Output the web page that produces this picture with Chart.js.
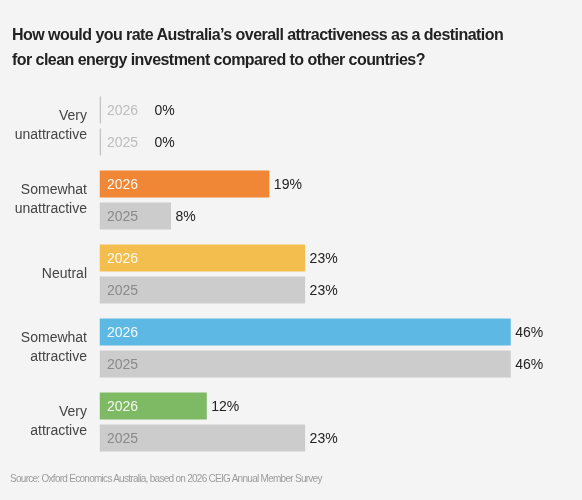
<!DOCTYPE html>
<html>
<head>
<meta charset="utf-8">
<script src="https://cdn.jsdelivr.net/npm/chart.js@4.4.1/dist/chart.umd.min.js"></script>
<style>
  html, body { margin: 0; padding: 0; background: #f4f4f4; }
  #wrap { position: relative; width: 582px; height: 500px; overflow: hidden; }
  #title {
    position: absolute; left: 12px; top: 22px; width: 570px;
    font: bold 16px "Liberation Sans", Arial, sans-serif;
    line-height: 25px; letter-spacing: -0.55px; color: #222;
  }
  #source {
    position: absolute; left: 10px; top: 473px;
    font: 10px "Liberation Sans", Arial, sans-serif;
    line-height: 12px; letter-spacing: -0.72px; color: #9c9c9c;
  }
  canvas { position: absolute; left: 0; top: 0; }
</style>
</head>
<body>
<div id="wrap">
  <canvas id="chart" width="582" height="500"></canvas>
  <div id="title">How would you rate Australia’s overall attractiveness as a destination<br>for clean energy investment compared to other countries?</div>
  <div id="source">Source: Oxford Economics Australia, based on 2026 CEIG Annual Member Survey</div>
</div>
<script>
// — Data —
const categories = [
  ['Very', 'unattractive'],
  ['Somewhat', 'unattractive'],
  ['Neutral'],
  ['Somewhat', 'attractive'],
  ['Very', 'attractive']
];
const seriesLabels = ['2026', '2025'];
const values2026 = [0, 19, 23, 46, 12];
const values2025 = [0, 8, 23, 46, 23];

// — Colours —
const colors2026 = ['#c2c2c2', '#ef8737', '#f4be4f', '#5db9e4', '#7dba63'];
const color2025  = '#cccccc';
const zeroColor  = '#c2c2c2';

// — Year label inside bar + value label at bar end —
const barLabels = {
  id: 'barLabels',
  afterDatasetsDraw(chart) {
    const { ctx, chartArea } = chart;
    ctx.save();
    ctx.font = '14px "Liberation Sans", Arial, sans-serif';
    ctx.textBaseline = 'middle';
    chart.data.datasets.forEach((ds, di) => {
      const meta = chart.getDatasetMeta(di);
      meta.data.forEach((bar, i) => {
        const v = ds.data[i];
        let yearColor;
        if (v === 0) yearColor = '#bdbdbd';
        else if (di === 0) yearColor = 'rgba(255,255,255,0.92)';
        else yearColor = '#8a8a8a';
        ctx.fillStyle = yearColor;
        ctx.textAlign = 'left';
        ctx.fillText(ds.label, chartArea.left + 7.5, bar.y + 1);
        ctx.fillStyle = '#222';
        const vx = Math.max(bar.x + 4.5, chartArea.left + 55);
        ctx.fillText(v + '%', vx, bar.y + 1);
      });
    });
    ctx.restore();
  }
};

new Chart(document.getElementById('chart'), {
  type: 'bar',
  data: {
    labels: categories,
    datasets: [
      { label: seriesLabels[0], data: values2026,
        backgroundColor: values2026.map((v, i) => v === 0 ? zeroColor : colors2026[i]) },
      { label: seriesLabels[1], data: values2025,
        backgroundColor: values2025.map(v => v === 0 ? zeroColor : color2025) }
    ]
  },
  options: {
    indexAxis: 'y',
    responsive: false,
    animation: false,
    events: [],
    layout: { padding: { top: 89, bottom: 41, left: 0, right: 35.5 } },
    datasets: {
      bar: { categoryPercentage: 0.865, barPercentage: 0.84, minBarLength: 1.5, borderWidth: 0 }
    },
    scales: {
      x: { display: false, min: 0, max: 50 },
      y: {
        afterFit(scale) { scale.width = 99.5; },
        grid: { display: false, drawTicks: false },
        border: { display: false },
        ticks: {
          color: '#444',
          padding: 12.5,
          font: { family: '"Liberation Sans", Arial, sans-serif', size: 14, lineHeight: 1.36 }
        }
      }
    },
    plugins: {
      legend: { display: false },
      tooltip: { enabled: false }
    }
  },
  plugins: [barLabels]
});
</script>
</body>
</html>
